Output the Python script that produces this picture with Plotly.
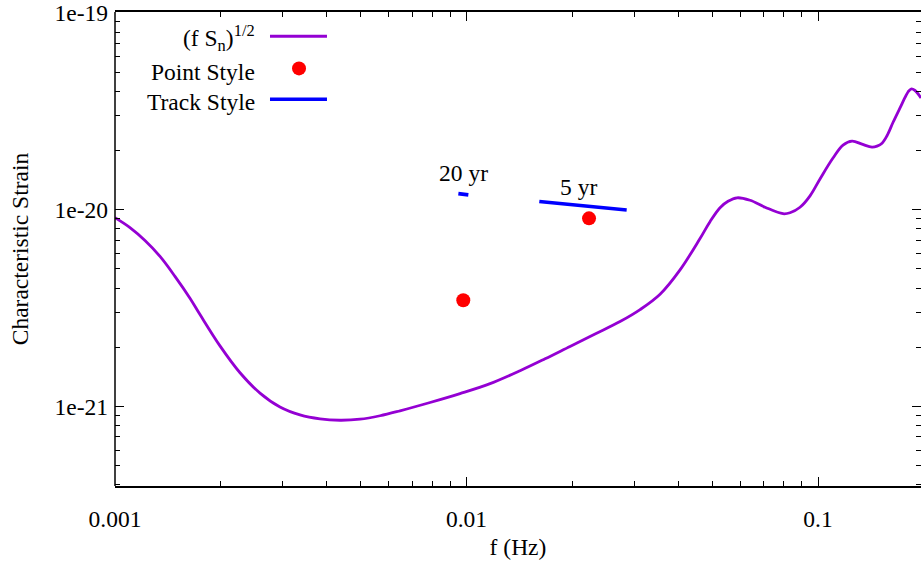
import numpy as np
import plotly.graph_objects as go

# Sensitivity curve (f S_n)^{1/2}: frequency [Hz] and characteristic strain
freq = [1.000e-3, 1.103e-3, 1.217e-3, 1.343e-3, 1.481e-3, 1.634e-3, 1.745e-3,
        1.989e-3, 2.268e-3, 2.585e-3, 2.947e-3, 3.360e-3, 3.830e-3, 4.366e-3,
        4.978e-3, 5.675e-3, 6.469e-3, 7.876e-3, 9.583e-3, 1.167e-2, 1.420e-2,
        1.673e-2, 1.970e-2, 2.321e-2, 2.734e-2, 3.117e-2, 3.553e-2, 4.050e-2,
        4.616e-2, 4.928e-2, 5.263e-2, 5.546e-2, 5.884e-2, 6.406e-2, 7.068e-2,
        7.951e-2, 8.324e-2, 8.887e-2, 9.489e-2, 0.1013, 0.1103, 0.1178, 0.1250,
        0.1334, 0.1424, 0.1472, 0.1521, 0.1571, 0.1635, 0.1711, 0.1768, 0.1803,
        0.1839, 0.1888, 0.1963]
strain = [9.113e-21, 8.111e-21, 6.975e-21, 5.789e-21, 4.587e-21, 3.552e-21, 2.933e-21,
          2.033e-21, 1.485e-21, 1.170e-21, 9.942e-22, 9.059e-22, 8.647e-22, 8.517e-22,
          8.617e-22, 8.975e-22, 9.512e-22, 1.048e-21, 1.163e-21, 1.307e-21, 1.520e-21,
          1.748e-21, 2.021e-21, 2.337e-21, 2.702e-21, 3.108e-21, 3.721e-21, 4.948e-21,
          7.139e-21, 8.699e-21, 1.024e-20, 1.104e-20, 1.150e-20, 1.117e-20, 1.030e-20,
          9.546e-21, 9.657e-21, 1.030e-20, 1.177e-20, 1.434e-20, 1.831e-20, 2.130e-20,
          2.231e-20, 2.154e-20, 2.081e-20, 2.105e-20, 2.180e-20, 2.378e-20, 2.783e-20,
          3.294e-20, 3.721e-20, 3.967e-20, 4.108e-20, 4.037e-20, 3.701e-20]

# Sources in "point" style
point_freq = [9.79e-3, 2.231e-2]
point_strain = [3.47e-21, 9.04e-21]

# Sources in "track" style (start and end of each track)
track_names = ["20 yr", "5 yr"]
track_freq = [[9.48e-3, 1.012e-2], [1.611e-2, 2.855e-2]]
track_strain = [[1.208e-20, 1.190e-20], [1.101e-20, 9.97e-21]]

# Axis ticks
x_tickvals = [1e-3, 1e-2, 1e-1]
x_ticktext = ["0.001", "0.01", "0.1"]
y_tickvals = [1e-21, 1e-20, 1e-19]
y_ticktext = ["1e-21", "1e-20", "1e-19"]

PURPLE = "#9400D3"
RED = "#FF0000"
BLUE = "#0000FF"
FONT = "Liberation Serif"
FS = 23.5

x_range = [-3, np.log10(0.1963)]
y_range = [-21.404, -18.995]

x_minor = [m * 10.0 ** e for e in (-3, -2, -1) for m in range(2, 10)
           if np.log10(m * 10.0 ** e) < x_range[1]]
y_minor = [m * 10.0 ** e for e in (-22, -21, -20) for m in range(2, 10)
           if y_range[0] < np.log10(m * 10.0 ** e) < y_range[1]]

fig = go.Figure()

fig.add_trace(go.Scatter(
    x=freq, y=strain, mode="lines",
    line=dict(color=PURPLE, width=2.8, shape="spline", smoothing=1.0),
    showlegend=False, hoverinfo="skip"))

for name, tf, ts in zip(track_names, track_freq, track_strain):
    fig.add_trace(go.Scatter(
        x=tf, y=ts, mode="lines", line=dict(color=BLUE, width=3.6),
        showlegend=False, hoverinfo="skip"))

fig.add_trace(go.Scatter(
    x=point_freq, y=point_strain, mode="markers",
    marker=dict(color=RED, size=14, line=dict(width=0)),
    showlegend=False, hoverinfo="skip"))

# Track labels
fig.add_annotation(x=np.log10(9.79e-3), y=np.log10(1.543e-20), text="20 yr",
                   showarrow=False, font=dict(family=FONT, size=FS, color="black"))
fig.add_annotation(x=np.log10(2.08e-2), y=np.log10(1.307e-20), text="5 yr",
                   showarrow=False, font=dict(family=FONT, size=FS, color="black"))

# Key in the top-left corner: label on the left, sample on the right
key_rows = [
    ("(f S<sub>n</sub>)<sup>1/2</sup>", "line", PURPLE, 0.949, 0.945),
    ("Point Style", "point", RED, 0.881, 0.874),
    ("Track Style", "line", BLUE, 0.816, 0.810),
]
for label, kind, color, ky, ty in key_rows:
    fig.add_annotation(xref="paper", yref="paper", x=0.1762, y=ty, text=label,
                       xanchor="right", yanchor="middle", showarrow=False,
                       font=dict(family=FONT, size=FS, color="black"))
    if kind == "line":
        fig.add_shape(type="line", xref="paper", yref="paper",
                      x0=0.1923, x1=0.263, y0=ky, y1=ky,
                      line=dict(color=color, width=3 if color == PURPLE else 3.6))
    else:
        fig.add_trace(go.Scatter(
            x=[0.2283], y=[ky], xaxis="x2", yaxis="y2", mode="markers",
            marker=dict(color=color, size=14, line=dict(width=0)),
            showlegend=False, hoverinfo="skip"))

# Left border line of the plot frame
fig.add_shape(type="line", xref="paper", yref="paper", x0=0, x1=0, y0=0, y1=1,
              line=dict(color="black", width=1.5))

axis_common = dict(
    showgrid=False, zeroline=False, ticks="inside", tickcolor="black",
    tickwidth=1, ticklen=9, ticklabeloverflow="allow",
    tickfont=dict(family=FONT, size=FS, color="black"),
)

fig.update_layout(
    width=921, height=562,
    margin=dict(l=115, r=0, t=10, b=76),
    paper_bgcolor="white", plot_bgcolor="white",
    font=dict(family=FONT, size=FS, color="black"),
    xaxis=dict(type="log", range=x_range, tickmode="array",
               tickvals=x_tickvals, ticktext=x_ticktext,
               showline=True, linecolor="black", linewidth=1.5, mirror="ticks",
               minor=dict(tickmode="array", tickvals=x_minor, ticks="inside",
                          ticklen=5, tickcolor="black", tickwidth=1, showgrid=False),
               ticklabelstandoff=11,
               title=dict(text="f (Hz)", font=dict(family=FONT, size=FS), standoff=8),
               **axis_common),
    yaxis=dict(type="log", range=y_range, tickmode="array",
               tickvals=y_tickvals, ticktext=y_ticktext,
               showline=False, mirror="ticks",
               minor=dict(tickmode="array", tickvals=y_minor, ticks="inside",
                          ticklen=5, tickcolor="black", tickwidth=1, showgrid=False),
               ticklabelstandoff=6,
               title=dict(text="Characteristic Strain", font=dict(family=FONT, size=FS),
                          standoff=19),
               **axis_common),
    xaxis2=dict(range=[0, 1], domain=[0, 1], overlaying="x", visible=False),
    yaxis2=dict(range=[0, 1], domain=[0, 1], overlaying="y", visible=False),
)

fig.write_html("out.html")
